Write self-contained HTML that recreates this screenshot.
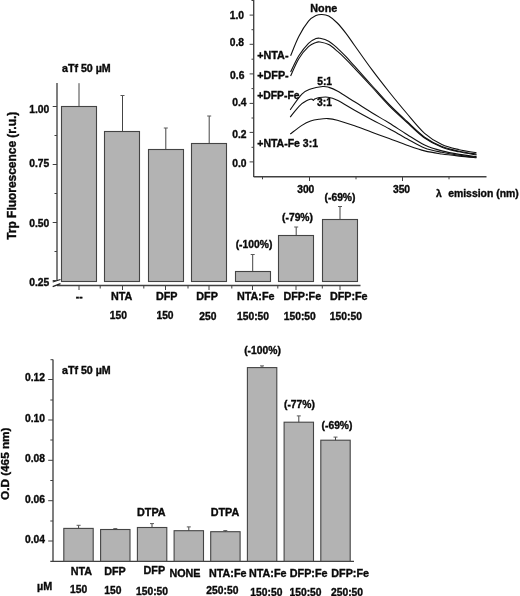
<!DOCTYPE html>
<html><head><meta charset="utf-8"><style>
html,body{margin:0;padding:0;background:#fff;}
svg{display:block;will-change:transform;opacity:0.999}
text{font-family:"Liberation Sans",sans-serif;font-weight:bold;fill:#0a0a0a;stroke:#0a0a0a;stroke-width:0.35px;}
</style></head><body>
<svg width="520" height="596" viewBox="0 0 520 596">
<rect width="520" height="596" fill="#fff"/>
<line x1="57.0" y1="83" x2="57.0" y2="281" stroke="#404040" stroke-width="1.35"/>
<line x1="57.0" y1="285.5" x2="360.5" y2="285.5" stroke="#404040" stroke-width="1.35"/>
<line x1="52.7" y1="282" x2="60.5" y2="279.5" stroke="#222" stroke-width="1.3"/>
<line x1="52.7" y1="286.7" x2="60.5" y2="283.6" stroke="#222" stroke-width="1.3"/>
<line x1="52.7" y1="106.5" x2="57.0" y2="106.5" stroke="#404040" stroke-width="1"/>
<text transform="translate(49.3,112.7) scale(1.0,1)" font-size="10.3" text-anchor="end" >1.00</text>
<line x1="52.7" y1="164.5" x2="57.0" y2="164.5" stroke="#404040" stroke-width="1"/>
<text transform="translate(49.3,166.5) scale(1.0,1)" font-size="10.3" text-anchor="end" >0.75</text>
<line x1="52.7" y1="222.5" x2="57.0" y2="222.5" stroke="#404040" stroke-width="1"/>
<text transform="translate(49.3,226.6) scale(1.0,1)" font-size="10.3" text-anchor="end" >0.50</text>
<line x1="52.7" y1="280.5" x2="57.0" y2="280.5" stroke="#404040" stroke-width="1"/>
<text transform="translate(49.3,285.8) scale(1.0,1)" font-size="10.3" text-anchor="end" >0.25</text>
<line x1="54.5" y1="135.5" x2="57.0" y2="135.5" stroke="#404040" stroke-width="1"/>
<line x1="54.5" y1="193.5" x2="57.0" y2="193.5" stroke="#404040" stroke-width="1"/>
<line x1="54.5" y1="251.5" x2="57.0" y2="251.5" stroke="#404040" stroke-width="1"/>
<rect x="61.5" y="106.5" width="35" height="175.0" fill="#b3b3b3" stroke="#444" stroke-width="1.1"/>
<line x1="79" y1="83.2" x2="79" y2="106.5" stroke="#444" stroke-width="1"/>
<rect x="104.5" y="131.5" width="35" height="150.0" fill="#b3b3b3" stroke="#444" stroke-width="1.1"/>
<line x1="122.5" y1="95.5" x2="122.5" y2="131.5" stroke="#444" stroke-width="1"/>
<line x1="120.5" y1="95.5" x2="124.5" y2="95.5" stroke="#5a5a5a" stroke-width="1"/>
<rect x="148.5" y="149.5" width="35" height="132.0" fill="#b3b3b3" stroke="#444" stroke-width="1.1"/>
<line x1="165.8" y1="128" x2="165.8" y2="149.5" stroke="#444" stroke-width="1"/>
<line x1="163.8" y1="128" x2="167.8" y2="128" stroke="#5a5a5a" stroke-width="1"/>
<rect x="191.5" y="143.5" width="35" height="138.0" fill="#b3b3b3" stroke="#444" stroke-width="1.1"/>
<line x1="209.2" y1="116" x2="209.2" y2="143.5" stroke="#444" stroke-width="1"/>
<line x1="207.2" y1="116" x2="211.2" y2="116" stroke="#5a5a5a" stroke-width="1"/>
<rect x="235.5" y="271.5" width="35" height="10.0" fill="#b3b3b3" stroke="#444" stroke-width="1.1"/>
<line x1="252.7" y1="254.5" x2="252.7" y2="271.5" stroke="#444" stroke-width="1"/>
<line x1="250.7" y1="254.5" x2="254.7" y2="254.5" stroke="#5a5a5a" stroke-width="1"/>
<rect x="278.5" y="235.5" width="35" height="46.0" fill="#b3b3b3" stroke="#444" stroke-width="1.1"/>
<line x1="296.2" y1="227" x2="296.2" y2="235.5" stroke="#444" stroke-width="1"/>
<line x1="294.2" y1="227" x2="298.2" y2="227" stroke="#5a5a5a" stroke-width="1"/>
<rect x="322.5" y="219.5" width="35" height="62.0" fill="#b3b3b3" stroke="#444" stroke-width="1.1"/>
<line x1="340" y1="206.5" x2="340" y2="219.5" stroke="#444" stroke-width="1"/>
<line x1="338.0" y1="206.5" x2="342.0" y2="206.5" stroke="#5a5a5a" stroke-width="1"/>
<line x1="79" y1="285.5" x2="79" y2="290" stroke="#404040" stroke-width="1"/>
<line x1="122.5" y1="285.5" x2="122.5" y2="290" stroke="#404040" stroke-width="1"/>
<line x1="165.5" y1="285.5" x2="165.5" y2="290" stroke="#404040" stroke-width="1"/>
<line x1="209" y1="285.5" x2="209" y2="290" stroke="#404040" stroke-width="1"/>
<line x1="252.5" y1="285.5" x2="252.5" y2="290" stroke="#404040" stroke-width="1"/>
<line x1="296" y1="285.5" x2="296" y2="290" stroke="#404040" stroke-width="1"/>
<line x1="340" y1="285.5" x2="340" y2="290" stroke="#404040" stroke-width="1"/>
<line x1="100.2" y1="285.5" x2="100.2" y2="288.5" stroke="#404040" stroke-width="1"/>
<line x1="143.8" y1="285.5" x2="143.8" y2="288.5" stroke="#404040" stroke-width="1"/>
<line x1="188" y1="285.5" x2="188" y2="288.5" stroke="#404040" stroke-width="1"/>
<line x1="231.8" y1="285.5" x2="231.8" y2="288.5" stroke="#404040" stroke-width="1"/>
<line x1="277.8" y1="285.5" x2="277.8" y2="288.5" stroke="#404040" stroke-width="1"/>
<line x1="322.3" y1="285.5" x2="322.3" y2="288.5" stroke="#404040" stroke-width="1"/>
<text transform="translate(62,71.9) scale(1.025,1)" font-size="10.4" text-anchor="start" >aTf 50 µM</text>
<text transform="translate(79.2,300.2) scale(1.0,1)" font-size="10.3" text-anchor="middle" >--</text>
<text transform="translate(121.6,300) scale(1.025,1)" font-size="10.51" text-anchor="middle" >NTA</text>
<text transform="translate(166.7,300) scale(1.025,1)" font-size="10.51" text-anchor="middle" >DFP</text>
<text transform="translate(207.1,300) scale(1.025,1)" font-size="10.51" text-anchor="middle" >DFP</text>
<text transform="translate(237,300) scale(1.025,1)" font-size="10.51" text-anchor="start" >NTA:Fe</text>
<text transform="translate(283.5,300) scale(1.025,1)" font-size="10.51" text-anchor="start" >DFP:Fe</text>
<text transform="translate(329.9,300) scale(1.025,1)" font-size="10.51" text-anchor="start" >DFP:Fe</text>
<text transform="translate(109.7,318.8) scale(1.0,1)" font-size="10.3" text-anchor="start" >150</text>
<text transform="translate(156.4,318.8) scale(1.0,1)" font-size="10.3" text-anchor="start" >150</text>
<text transform="translate(199.3,320.3) scale(1.0,1)" font-size="10.3" text-anchor="start" >250</text>
<text transform="translate(237,320.3) scale(1.0,1)" font-size="10.3" text-anchor="start" >150:50</text>
<text transform="translate(283.7,320.3) scale(1.0,1)" font-size="10.3" text-anchor="start" >150:50</text>
<text transform="translate(329.8,320.3) scale(1.0,1)" font-size="10.3" text-anchor="start" >150:50</text>
<text transform="translate(254,247.5) scale(1.0,1)" font-size="10.3" text-anchor="middle" >(-100%)</text>
<text transform="translate(297.5,220.7) scale(1.0,1)" font-size="10.3" text-anchor="middle" >(-79%)</text>
<text transform="translate(340,200.7) scale(1.0,1)" font-size="10.3" text-anchor="middle" >(-69%)</text>
<text transform="translate(15.5,239.8) rotate(-90)" font-size="11.95">Trp Fluorescence (r.u.)</text>
<line x1="253.7" y1="0" x2="253.7" y2="177" stroke="#404040" stroke-width="1.35"/>
<line x1="253.7" y1="176.7" x2="486.5" y2="176.7" stroke="#404040" stroke-width="1.35"/>
<line x1="249.6" y1="15.1" x2="253.7" y2="15.1" stroke="#404040" stroke-width="1"/>
<text transform="translate(244.1,18.6) scale(1.0,1)" font-size="10.3" text-anchor="end" >1.0</text>
<line x1="249.6" y1="44.3" x2="253.7" y2="44.3" stroke="#404040" stroke-width="1"/>
<text transform="translate(244.1,45.5) scale(1.0,1)" font-size="10.3" text-anchor="end" >0.8</text>
<line x1="249.6" y1="73.9" x2="253.7" y2="73.9" stroke="#404040" stroke-width="1"/>
<text transform="translate(244.4,78.6) scale(1.0,1)" font-size="10.3" text-anchor="end" >0.6</text>
<line x1="249.6" y1="103.4" x2="253.7" y2="103.4" stroke="#404040" stroke-width="1"/>
<text transform="translate(246.5,105.5) scale(1.0,1)" font-size="10.3" text-anchor="end" >0.4</text>
<line x1="249.6" y1="132.4" x2="253.7" y2="132.4" stroke="#404040" stroke-width="1"/>
<text transform="translate(246.5,138.2) scale(1.0,1)" font-size="10.3" text-anchor="end" >0.2</text>
<line x1="249.6" y1="161.9" x2="253.7" y2="161.9" stroke="#404040" stroke-width="1"/>
<text transform="translate(246.5,166.8) scale(1.0,1)" font-size="10.3" text-anchor="end" >0.0</text>
<line x1="251.5" y1="0.5" x2="253.7" y2="0.5" stroke="#404040" stroke-width="1"/>
<line x1="251.5" y1="29.7" x2="253.7" y2="29.7" stroke="#404040" stroke-width="1"/>
<line x1="251.5" y1="59.2" x2="253.7" y2="59.2" stroke="#404040" stroke-width="1"/>
<line x1="251.5" y1="88.6" x2="253.7" y2="88.6" stroke="#404040" stroke-width="1"/>
<line x1="251.5" y1="118" x2="253.7" y2="118" stroke="#404040" stroke-width="1"/>
<line x1="251.5" y1="147.3" x2="253.7" y2="147.3" stroke="#404040" stroke-width="1"/>
<line x1="309.5" y1="176.7" x2="309.5" y2="181" stroke="#404040" stroke-width="1"/>
<line x1="402.5" y1="176.7" x2="402.5" y2="181" stroke="#404040" stroke-width="1"/>
<line x1="262.5" y1="176.7" x2="262.5" y2="179.3" stroke="#404040" stroke-width="1"/>
<line x1="356" y1="176.7" x2="356" y2="179.3" stroke="#404040" stroke-width="1"/>
<line x1="449" y1="176.7" x2="449" y2="179.3" stroke="#404040" stroke-width="1"/>
<text transform="translate(305.75,193.3) scale(1.0,1)" font-size="10.3" text-anchor="middle" >300</text>
<text transform="translate(401.5,193.3) scale(1.0,1)" font-size="10.3" text-anchor="middle" >350</text>
<text transform="translate(436,197.2) scale(1.0,1)" font-size="10.3" text-anchor="start" >λ</text>
<text transform="translate(448.2,197.2) scale(1.025,1)" font-size="10.51" text-anchor="start" textLength="68.8" lengthAdjust="spacingAndGlyphs">emission (nm)</text>
<text transform="translate(323.75,11.8) scale(1.025,1)" font-size="10.51" text-anchor="middle" >None</text>
<text transform="translate(257.3,59.0) scale(1.025,1)" font-size="10.51" text-anchor="start" >+NTA-</text>
<text transform="translate(257.3,78.9) scale(1.025,1)" font-size="10.51" text-anchor="start" >+DFP-</text>
<text transform="translate(257.3,99.3) scale(1.025,1)" font-size="10.51" text-anchor="start" textLength="41.2" lengthAdjust="spacingAndGlyphs">+DFP-Fe</text>
<text transform="translate(257.3,146.7) scale(1.025,1)" font-size="10.51" text-anchor="start" textLength="59.2" lengthAdjust="spacingAndGlyphs">+NTA-Fe 3:1</text>
<text transform="translate(324.6,84.9) scale(1.0,1)" font-size="10.3" text-anchor="middle" >5:1</text>
<text transform="translate(324.5,105.8) scale(1.0,1)" font-size="10.3" text-anchor="middle" >3:1</text>
<path d="M290.60,55.80 C291.97,52.58 295.82,42.27 298.80,36.50 C301.78,30.73 305.63,24.68 308.50,21.20 C311.37,17.72 313.75,16.72 316.00,15.60 C318.25,14.48 319.88,14.42 322.00,14.50 C324.12,14.58 326.15,14.68 328.70,16.10 C331.25,17.52 334.42,20.12 337.30,23.00 C340.18,25.88 343.12,29.65 346.00,33.40 C348.88,37.15 350.28,39.45 354.60,45.50 C358.92,51.55 366.13,61.95 371.90,69.70 C377.67,77.45 383.43,84.78 389.20,92.00 C394.97,99.22 400.60,106.12 406.50,113.00 C412.40,119.88 418.70,128.05 424.60,133.30 C430.50,138.55 436.13,141.77 441.90,144.50 C447.67,147.23 453.43,148.33 459.20,149.70 C464.97,151.07 473.62,152.20 476.50,152.70" fill="none" stroke="#111" stroke-width="1.1" stroke-linejoin="round"/>
<path d="M290.60,72.00 C291.97,69.30 295.82,60.58 298.80,55.80 C301.78,51.02 305.63,46.17 308.50,43.30 C311.37,40.43 314.08,39.43 316.00,38.60 C317.92,37.77 317.88,37.87 320.00,38.30 C322.12,38.73 325.82,39.57 328.70,41.20 C331.58,42.83 334.42,45.52 337.30,48.10 C340.18,50.68 343.12,53.68 346.00,56.70 C348.88,59.72 350.28,61.40 354.60,66.20 C358.92,71.00 366.13,79.12 371.90,85.50 C377.67,91.88 383.43,98.58 389.20,104.50 C394.97,110.42 400.60,115.55 406.50,121.00 C412.40,126.45 418.70,132.95 424.60,137.20 C430.50,141.45 436.13,144.17 441.90,146.50 C447.67,148.83 453.43,149.92 459.20,151.20 C464.97,152.48 473.62,153.70 476.50,154.20" fill="none" stroke="#111" stroke-width="1.1" stroke-linejoin="round"/>
<path d="M290.60,76.00 C291.97,73.12 295.82,63.58 298.80,58.70 C301.78,53.82 305.63,49.42 308.50,46.70 C311.37,43.98 314.08,43.18 316.00,42.40 C317.92,41.62 317.88,41.63 320.00,42.00 C322.12,42.37 325.82,43.07 328.70,44.60 C331.58,46.13 334.42,48.75 337.30,51.20 C340.18,53.65 343.12,56.45 346.00,59.30 C348.88,62.15 350.28,63.68 354.60,68.30 C358.92,72.92 366.13,80.75 371.90,87.00 C377.67,93.25 383.43,99.97 389.20,105.80 C394.97,111.63 400.60,116.63 406.50,122.00 C412.40,127.37 418.70,133.80 424.60,138.00 C430.50,142.20 436.13,144.90 441.90,147.20 C447.67,149.50 453.43,150.50 459.20,151.80 C464.97,153.10 473.62,154.47 476.50,155.00" fill="none" stroke="#111" stroke-width="1.1" stroke-linejoin="round"/>
<path d="M290.20,109.80 C292.15,107.20 298.50,97.67 301.90,94.20 C305.30,90.73 307.13,90.28 310.60,89.00 C314.07,87.72 319.68,86.78 322.70,86.50 C325.72,86.22 326.27,86.55 328.70,87.30 C331.13,88.05 332.98,88.58 337.30,91.00 C341.62,93.42 348.83,98.17 354.60,101.80 C360.37,105.43 366.13,109.27 371.90,112.80 C377.67,116.33 383.35,119.38 389.20,123.00 C395.05,126.62 401.10,130.83 407.00,134.50 C412.90,138.17 418.78,142.27 424.60,145.00 C430.42,147.73 436.13,149.33 441.90,150.90 C447.67,152.47 453.43,153.45 459.20,154.40 C464.97,155.35 473.62,156.23 476.50,156.60" fill="none" stroke="#111" stroke-width="1.1" stroke-linejoin="round"/>
<path d="M290.20,117.10 C291.17,115.88 294.05,112.03 296.00,109.80 C297.95,107.57 300.23,105.17 301.90,103.70 C303.57,102.23 304.62,101.73 306.00,101.00 C307.38,100.27 309.17,99.60 310.20,99.30 C311.23,99.00 311.87,99.22 312.20,99.20 L313.3,100.3 L314.6,99.0 C315.37,98.77 316.98,97.90 319.20,97.60 C321.42,97.30 324.88,96.77 327.90,97.20 C330.92,97.63 332.85,98.03 337.30,100.20 C341.75,102.37 348.83,106.95 354.60,110.20 C360.37,113.45 366.13,116.60 371.90,119.70 C377.67,122.80 383.35,125.62 389.20,128.80 C395.05,131.98 401.10,135.60 407.00,138.80 C412.90,142.00 418.78,145.75 424.60,148.00 C430.42,150.25 436.13,151.10 441.90,152.30 C447.67,153.50 453.43,154.38 459.20,155.20 C464.97,156.02 473.62,156.87 476.50,157.20" fill="none" stroke="#111" stroke-width="1.1" stroke-linejoin="round"/>
<path d="M290.20,134.00 C292.15,132.57 298.50,127.57 301.90,125.40 C305.30,123.23 307.72,122.03 310.60,121.00 C313.48,119.97 316.32,119.60 319.20,119.20 C322.08,118.80 324.88,118.43 327.90,118.60 C330.92,118.77 332.85,119.00 337.30,120.20 C341.75,121.40 348.83,123.78 354.60,125.80 C360.37,127.82 366.13,130.18 371.90,132.30 C377.67,134.42 383.35,136.35 389.20,138.50 C395.05,140.65 401.10,143.13 407.00,145.20 C412.90,147.27 418.78,149.43 424.60,150.90 C430.42,152.37 436.13,153.13 441.90,154.00 C447.67,154.87 453.43,155.47 459.20,156.10 C464.97,156.73 473.62,157.52 476.50,157.80" fill="none" stroke="#111" stroke-width="1.1" stroke-linejoin="round"/>
<line x1="53.0" y1="359.5" x2="53.0" y2="561.3" stroke="#404040" stroke-width="1.35"/>
<line x1="50.3" y1="561.3" x2="354" y2="561.3" stroke="#404040" stroke-width="1.35"/>
<line x1="50.5" y1="359.7" x2="53.0" y2="359.7" stroke="#404040" stroke-width="1"/>
<line x1="48.2" y1="379.5" x2="53.0" y2="379.5" stroke="#404040" stroke-width="1"/>
<text transform="translate(45.0,381.3) scale(1.0,1)" font-size="10.3" text-anchor="end" >0.12</text>
<line x1="48.2" y1="420" x2="53.0" y2="420" stroke="#404040" stroke-width="1"/>
<text transform="translate(45.0,421.8) scale(1.0,1)" font-size="10.3" text-anchor="end" >0.10</text>
<line x1="48.2" y1="460.3" x2="53.0" y2="460.3" stroke="#404040" stroke-width="1"/>
<text transform="translate(45.0,462.1) scale(1.0,1)" font-size="10.3" text-anchor="end" >0.08</text>
<line x1="48.2" y1="500.7" x2="53.0" y2="500.7" stroke="#404040" stroke-width="1"/>
<text transform="translate(45.0,502.5) scale(1.0,1)" font-size="10.3" text-anchor="end" >0.06</text>
<line x1="48.2" y1="541" x2="53.0" y2="541" stroke="#404040" stroke-width="1"/>
<text transform="translate(45.0,542.8) scale(1.0,1)" font-size="10.3" text-anchor="end" >0.04</text>
<line x1="50.3" y1="400" x2="53.0" y2="400" stroke="#404040" stroke-width="1"/>
<line x1="50.3" y1="440" x2="53.0" y2="440" stroke="#404040" stroke-width="1"/>
<line x1="50.3" y1="480.5" x2="53.0" y2="480.5" stroke="#404040" stroke-width="1"/>
<line x1="50.3" y1="521" x2="53.0" y2="521" stroke="#404040" stroke-width="1"/>
<rect x="63.8" y="528.4" width="29.4" height="32.89999999999998" fill="#b3b3b3" stroke="#444" stroke-width="1.1"/>
<line x1="78.6" y1="525.3" x2="78.6" y2="528.4" stroke="#444" stroke-width="1"/>
<line x1="76.6" y1="525.3" x2="80.6" y2="525.3" stroke="#5a5a5a" stroke-width="1"/>
<rect x="100.6" y="529.5" width="29.4" height="31.799999999999955" fill="#b3b3b3" stroke="#444" stroke-width="1.1"/>
<line x1="115.3" y1="528.6" x2="115.3" y2="529.5" stroke="#444" stroke-width="1"/>
<line x1="113.3" y1="528.6" x2="117.3" y2="528.6" stroke="#5a5a5a" stroke-width="1"/>
<rect x="137.4" y="527.5" width="29.4" height="33.799999999999955" fill="#b3b3b3" stroke="#444" stroke-width="1.1"/>
<line x1="152" y1="523.6" x2="152" y2="527.5" stroke="#444" stroke-width="1"/>
<line x1="150.0" y1="523.6" x2="154.0" y2="523.6" stroke="#5a5a5a" stroke-width="1"/>
<rect x="174.1" y="530.7" width="29.4" height="30.59999999999991" fill="#b3b3b3" stroke="#444" stroke-width="1.1"/>
<line x1="188.8" y1="526.9" x2="188.8" y2="530.7" stroke="#444" stroke-width="1"/>
<line x1="186.8" y1="526.9" x2="190.8" y2="526.9" stroke="#5a5a5a" stroke-width="1"/>
<rect x="210.7" y="531.7" width="29.4" height="29.59999999999991" fill="#b3b3b3" stroke="#444" stroke-width="1.1"/>
<line x1="225.3" y1="530.6" x2="225.3" y2="531.7" stroke="#444" stroke-width="1"/>
<line x1="223.3" y1="530.6" x2="227.3" y2="530.6" stroke="#5a5a5a" stroke-width="1"/>
<rect x="247.4" y="367.6" width="29.4" height="193.69999999999993" fill="#b3b3b3" stroke="#444" stroke-width="1.1"/>
<line x1="262" y1="365.9" x2="262" y2="367.6" stroke="#444" stroke-width="1"/>
<line x1="260.0" y1="365.9" x2="264.0" y2="365.9" stroke="#5a5a5a" stroke-width="1"/>
<rect x="284.1" y="422.2" width="29.4" height="139.09999999999997" fill="#b3b3b3" stroke="#444" stroke-width="1.1"/>
<line x1="298.8" y1="415.9" x2="298.8" y2="422.2" stroke="#444" stroke-width="1"/>
<line x1="296.8" y1="415.9" x2="300.8" y2="415.9" stroke="#5a5a5a" stroke-width="1"/>
<rect x="320.8" y="440.2" width="29.4" height="121.09999999999997" fill="#b3b3b3" stroke="#444" stroke-width="1.1"/>
<line x1="335.5" y1="437.1" x2="335.5" y2="440.2" stroke="#444" stroke-width="1"/>
<line x1="333.5" y1="437.1" x2="337.5" y2="437.1" stroke="#5a5a5a" stroke-width="1"/>
<text transform="translate(62,374.2) scale(1.025,1)" font-size="10.4" text-anchor="start" >aTf 50 µM</text>
<text transform="translate(151.3,515.5) scale(1.025,1)" font-size="10.51" text-anchor="middle" >DTPA</text>
<text transform="translate(225,515.5) scale(1.025,1)" font-size="10.51" text-anchor="middle" >DTPA</text>
<text transform="translate(262.5,353.7) scale(1.0,1)" font-size="10.3" text-anchor="middle" >(-100%)</text>
<text transform="translate(299.4,408) scale(1.0,1)" font-size="10.3" text-anchor="middle" >(-77%)</text>
<text transform="translate(337,428.7) scale(1.0,1)" font-size="10.3" text-anchor="middle" >(-69%)</text>
<text transform="translate(81.4,574.8) scale(1.025,1)" font-size="10.51" text-anchor="middle" >NTA</text>
<text transform="translate(115,574.8) scale(1.025,1)" font-size="10.51" text-anchor="middle" >DFP</text>
<text transform="translate(154.3,574.1) scale(1.025,1)" font-size="10.51" text-anchor="middle" >DFP</text>
<text transform="translate(185,576.6) scale(1.025,1)" font-size="10.51" text-anchor="middle" >NONE</text>
<text transform="translate(209,576.6) scale(1.025,1)" font-size="10.51" text-anchor="start" >NTA:Fe</text>
<text transform="translate(249,576.6) scale(1.025,1)" font-size="10.51" text-anchor="start" >NTA:Fe</text>
<text transform="translate(289.8,576.6) scale(1.025,1)" font-size="10.51" text-anchor="start" >DFP:Fe</text>
<text transform="translate(331.3,576.6) scale(1.025,1)" font-size="10.51" text-anchor="start" >DFP:Fe</text>
<text transform="translate(37,589.5) scale(1.025,1)" font-size="10.51" text-anchor="start" >µM</text>
<text transform="translate(70,593.3) scale(1.0,1)" font-size="10.3" text-anchor="start" >150</text>
<text transform="translate(104.3,593.6) scale(1.0,1)" font-size="10.3" text-anchor="start" >150</text>
<text transform="translate(136,594.6) scale(1.0,1)" font-size="10.3" text-anchor="start" >150:50</text>
<text transform="translate(206.3,594.2) scale(1.0,1)" font-size="10.3" text-anchor="start" >250:50</text>
<text transform="translate(250.3,595.8) scale(1.0,1)" font-size="10.3" text-anchor="start" >150:50</text>
<text transform="translate(289.5,595.8) scale(1.0,1)" font-size="10.3" text-anchor="start" >150:50</text>
<text transform="translate(331.0,595.8) scale(1.0,1)" font-size="10.3" text-anchor="start" >250:50</text>
<text transform="translate(9.3,500) rotate(-90)" font-size="11.75">O.D (465 nm)</text>
</svg>
</body></html>
